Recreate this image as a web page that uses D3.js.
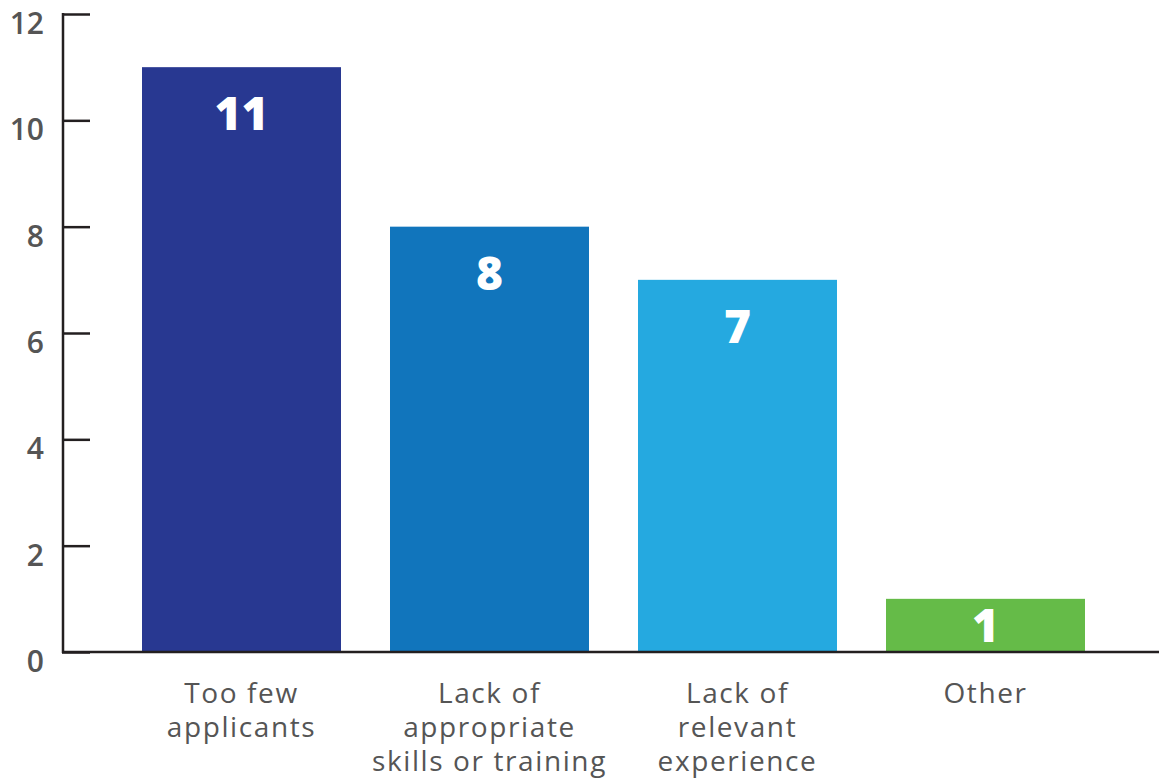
<!DOCTYPE html>
<html><head><meta charset="utf-8">
<script src="https://cdn.jsdelivr.net/npm/d3@7"></script>
<style>body{margin:0;background:#fff}svg{display:block}</style>
</head><body>
<svg id="chart" width="1159" height="779"></svg>
<script>
const categories = ["Too few applicants", "Lack of appropriate skills or training", "Lack of relevant experience", "Other"];
const categoryLines = [["Too few", "applicants"], ["Lack of", "appropriate", "skills or training"], ["Lack of", "relevant", "experience"], ["Other"]];
const values = [11, 8, 7, 1];
const colors = ["#283891", "#1175bc", "#25a9e0", "#65bb48"];
const yTicks = [0, 2, 4, 6, 8, 10, 12];

const svg = d3.select("#chart");
const x0 = 63, yTop = 14, yBase = 652;
const x = d3.scaleBand().domain(categories).range([142, 1085]).paddingInner(0.1976).paddingOuter(0);
const y = d3.scaleLinear().domain([0, 12]).range([yBase, yTop]);

// bars
svg.selectAll("rect.bar").data(values).enter().append("rect")
  .attr("x", (d, i) => x(categories[i]))
  .attr("width", x.bandwidth())
  .attr("y", d => y(d))
  .attr("height", d => yBase - y(d))
  .attr("fill", (d, i) => colors[i]);

// y axis
const yAxis = d3.axisLeft(y).tickValues(yTicks).tickSize(0).tickPadding(19);
const gy = svg.append("g").attr("transform", `translate(${x0},0)`).call(yAxis);
gy.select(".domain").remove();
gy.selectAll("text").attr("dy", "0.32em").attr("y", 10)
  .style("font-family", "'Open Sans', sans-serif").style("font-size", "30px")
  .style("font-weight", "600").attr("fill", "#555");
gy.selectAll(".tick").append("line").attr("x1", -1).attr("x2", 27).attr("stroke", "#231f20").attr("stroke-width", 2.5);
svg.append("line").attr("x1", x0).attr("x2", x0).attr("y1", yTop - 1).attr("y2", yBase + 1)
  .attr("stroke", "#231f20").attr("stroke-width", 2.5);
svg.append("line").attr("x1", x0 - 1).attr("x2", 1159).attr("y1", yBase).attr("y2", yBase)
  .attr("stroke", "#231f20").attr("stroke-width", 2.5);

// value labels
svg.selectAll("text.val").data(values).enter().append("text")
  .attr("x", (d, i) => x(categories[i]) + x.bandwidth() / 2)
  .attr("y", d => { const t = y(d), h = yBase - t; return h > 130 ? t + 63 : t + h / 2 + 17; })
  .attr("text-anchor", "middle").attr("fill", "#fff")
  .style("font-family", "'Open Sans', sans-serif").style("font-size", "46px").style("font-weight", "800")
  .text(d => d);

// category labels
categoryLines.forEach((lines, i) => {
  const cx = x(categories[i]) + x.bandwidth() / 2;
  const t = svg.append("text").attr("text-anchor", "middle")
    .attr("fill", "#555")
    .style("font-family", "'Open Sans', sans-serif").style("font-size", "28px").style("letter-spacing", "1.6px");
  lines.forEach((l, j) => t.append("tspan").attr("x", cx).attr("y", 703 + j * 34).text(l));
});
</script>
</body></html>
